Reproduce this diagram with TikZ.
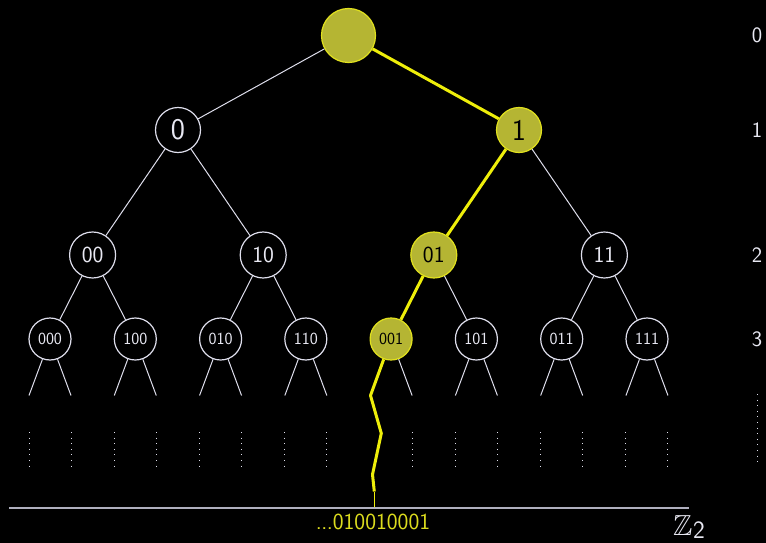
\documentclass[tikz,border=0pt]{standalone}
\usepackage{amssymb}
\definecolor{linegray}{RGB}{222,222,236}
\definecolor{basegray}{RGB}{175,175,190}
\definecolor{labelgray}{RGB}{232,232,242}
\definecolor{olivefill}{RGB}{181,181,51}
\definecolor{rimyellow}{RGB}{225,225,30}
\definecolor{pathyellow}{RGB}{238,238,10}
\definecolor{textyellow}{RGB}{220,220,30}
\begin{document}
\begin{tikzpicture}[x=1pt,y=-1pt,
  edge/.style={draw=linegray,line width=1pt},
  hot/.style={draw=pathyellow,line width=3pt,line join=round},
  vtx/.style={circle,draw=linegray,line width=1.2pt,inner sep=0pt,text=labelgray},
  onpath/.style={fill=olivefill,draw=rimyellow,text=black},
  lvlzero/.style={vtx,minimum size=54pt},
  lvlone/.style={vtx,minimum size=45pt,font=\sffamily\fontsize{30}{30}\selectfont},
  lvltwo/.style={vtx,minimum size=46pt,font=\sffamily\fontsize{23}{23}\selectfont},
  lvlthree/.style={vtx,minimum size=42pt,font=\sffamily\fontsize{17}{17}\selectfont},
  depth/.style={text=labelgray,font=\sffamily\fontsize{22}{22}\selectfont},
  dots/.style={draw=linegray,line width=1pt,dash pattern=on 1pt off 4.6pt}
]
\fill[black] (0,0) rectangle (766,543);
\useasboundingbox (0,0) rectangle (766,543);

% levels of the tree
\node[lvlzero,onpath] (r) at (348.5,35.5) {};
\node[lvlone] (n0) at (178,130) {0};
\node[lvlone,onpath] (n1) at (519,130) {1};
\node[lvltwo] (n00) at (92.6,255) {00};
\node[lvltwo] (n10) at (263.2,255) {10};
\node[lvltwo,onpath] (n01) at (433.8,255) {01};
\node[lvltwo] (n11) at (604.4,255) {11};
\foreach \lab [count=\k from 0] in {000,100,010,110,001,101,011,111}{
  \pgfmathsetmacro{\xx}{50+85.28*\k}
  \coordinate (l\lab) at (\xx-21,395.5);
  \coordinate (r\lab) at (\xx+21,395.5);
  \coordinate (lt\lab) at (\xx-21,432);
  \coordinate (lb\lab) at (\xx-21,466);
  \coordinate (rt\lab) at (\xx+21,432);
  \coordinate (rb\lab) at (\xx+21,466);
}
\node[lvlthree] (n000) at (50,339) {000};
\node[lvlthree] (n100) at (135.3,339) {100};
\node[lvlthree] (n010) at (220.6,339) {010};
\node[lvlthree] (n110) at (305.8,339) {110};
\node[lvlthree,onpath] (n001) at (391.1,339) {001};
\node[lvlthree] (n101) at (476.4,339) {101};
\node[lvlthree] (n011) at (561.7,339) {011};
\node[lvlthree] (n111) at (647,339) {111};

% plain edges
\draw[edge] (r) -- (n0);
\draw[edge] (n0) -- (n00);
\draw[edge] (n0) -- (n10);
\draw[edge] (n1) -- (n11);
\draw[edge] (n00) -- (n000);
\draw[edge] (n00) -- (n100);
\draw[edge] (n10) -- (n010);
\draw[edge] (n10) -- (n110);
\draw[edge] (n01) -- (n101);
\draw[edge] (n11) -- (n011);
\draw[edge] (n11) -- (n111);

% stubs towards the next level, with dotted continuations
\foreach \lab in {000,100,010,110,101,011,111}{
  \draw[edge] (n\lab) -- (l\lab);
  \draw[edge] (n\lab) -- (r\lab);
  \draw[dots] (lt\lab) -- (lb\lab);
  \draw[dots] (rt\lab) -- (rb\lab);
}
\draw[edge] (n001) -- (r001);
\draw[dots] (rt001) -- (rb001);

% base line and the chosen infinite branch
\coordinate (bl) at (9,508);
\coordinate (br) at (689,508);
\draw[draw=basegray,line width=2pt] (bl) -- (br);
\coordinate (w1) at (370.5,395.5);
\coordinate (w2) at (381.3,433.3);
\coordinate (w3) at (372.5,474.5);
\coordinate (w4) at (374.3,491.5);
\coordinate (w5) at (374.3,507);
\draw[hot] (r) -- (n1);
\draw[hot] (n1) -- (n01);
\draw[hot] (n01) -- (n001);
\draw[hot] (n001) -- (w1) -- (w2) -- (w3) -- (w4);
\draw[draw=pathyellow,line width=1pt] (w4) -- (w5);

\node[text=textyellow,font=\sffamily\fontsize{23}{23}\selectfont] (lim) at (373,521.5) {.\kern-0.5pt.\kern-0.5pt.010010001};
\node[text=labelgray,inner sep=0pt,anchor=base west] (zz) at (673,535.5)
  {\fontsize{29}{29}\selectfont$\mathbb{Z}$\kern0.5pt\raisebox{-3pt}{\sffamily\fontsize{25}{25}\selectfont 2}};

% depth column
\node[depth] (d0) at (757,35) {0};
\node[depth] (d1) at (757,130) {1};
\node[depth] (d2) at (757,255) {2};
\node[depth] (d3) at (757,339) {3};
\coordinate (dt) at (757,394);
\coordinate (db) at (757,466);
\draw[dots] (dt) -- (db);
\end{tikzpicture}
\end{document}
